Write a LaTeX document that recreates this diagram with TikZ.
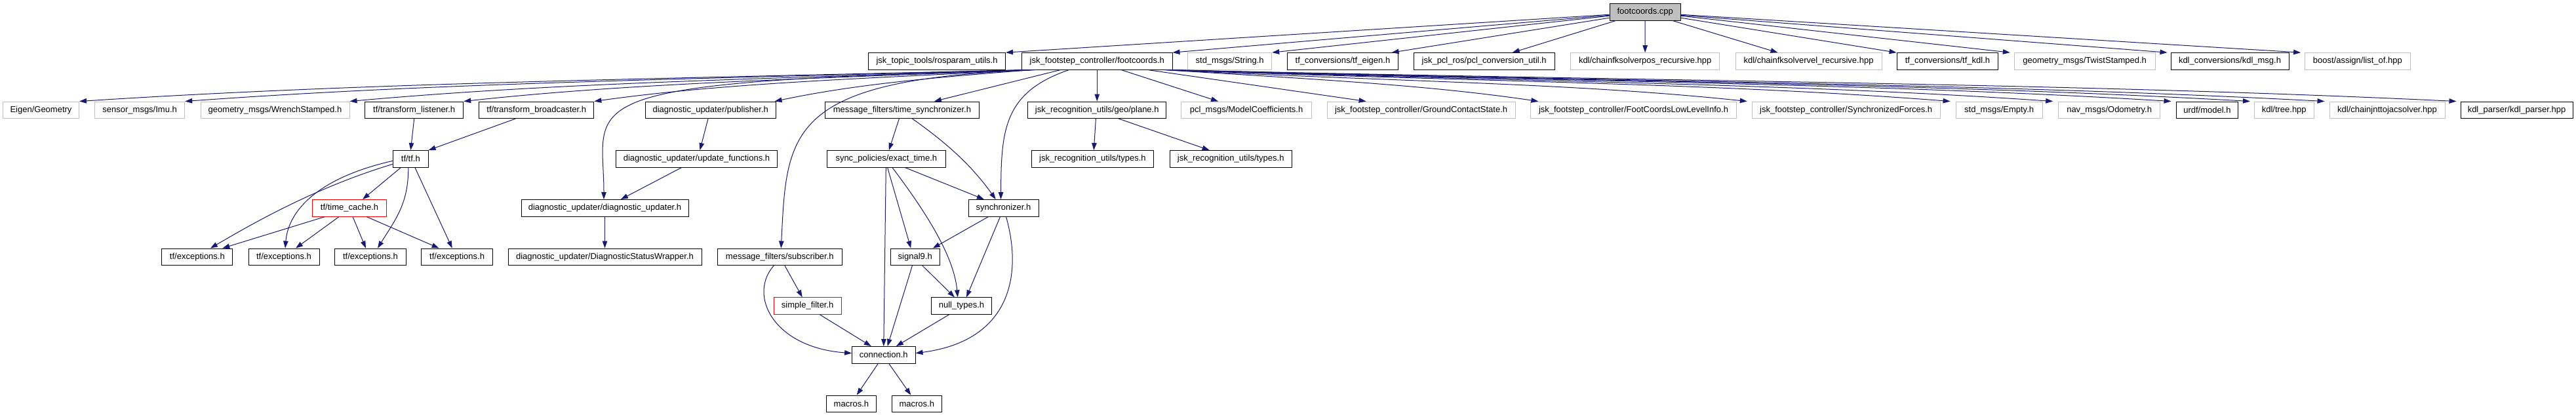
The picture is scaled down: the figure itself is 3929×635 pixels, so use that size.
\documentclass[tikz,border=0pt]{standalone}
\usepackage{fontspec}
\setmainfont{Liberation Sans}
\usetikzlibrary{arrows.meta}
\definecolor{edgeblue}{HTML}{191970}
\definecolor{extgray}{HTML}{BFBFBF}
\begin{document}
\begin{tikzpicture}[x=1pt,y=-1pt,
  box/.style={draw=black, line width=1pt, fill=white, rectangle, inner sep=0pt,
    minimum height=25.5pt, font=\fontsize{13}{15}\selectfont, text=black},
  doc/.style={box},
  ext/.style={box, draw=extgray},
  trunc/.style={box, draw=red},
  root/.style={box, fill=extgray},
  edge/.style={draw=edgeblue, line width=1pt, -{Triangle[length=11pt,width=7.5pt]}}]
\fill[white] (0,0) rectangle (3929,635);
\path[use as bounding box] (0,0) rectangle (3929,635);

% row 0
\node[root, minimum width=108.4pt] (cpp) at (2509.2,18.25) {footcoords.cpp};
% row 1
\node[doc, minimum width=208.9pt] (rosparam) at (1429.05,93.4) {jsk\_topic\_tools/rosparam\_utils.h};
\node[doc, minimum width=229.5pt] (fch) at (1673.25,93.4) {jsk\_footstep\_controller/footcoords.h};
\node[ext, minimum width=128.1pt] (string) at (1875.65,93.4) {std\_msgs/String.h};
\node[doc, minimum width=168.3pt] (tfeigen) at (2047.95,93.4) {tf\_conversions/tf\_eigen.h};
\node[doc, minimum width=214.7pt] (pclconv) at (2263.65,93.4) {jsk\_pcl\_ros/pcl\_conversion\_util.h};
\node[ext, minimum width=227.3pt] (fkpos) at (2509.15,93.4) {kdl/chainfksolverpos\_recursive.hpp};
\node[ext, minimum width=223pt] (fkvel) at (2758.5,93.4) {kdl/chainfksolvervel\_recursive.hpp};
\node[doc, minimum width=154.8pt] (tfkdl) at (2970.4,93.4) {tf\_conversions/tf\_kdl.h};
\node[ext, minimum width=214.7pt] (twist) at (3179.65,93.4) {geometry\_msgs/TwistStamped.h};
\node[doc, minimum width=180pt] (kdlmsg) at (3401,93.4) {kdl\_conversions/kdl\_msg.h};
\node[ext, minimum width=160.4pt] (listof) at (3595.8,93.4) {boost/assign/list\_of.hpp};
% row 2
\node[ext, minimum width=116pt] (eigen) at (62.5,167.8) {Eigen/Geometry};
\node[ext, minimum width=137.1pt] (imu) at (213.15,167.8) {sensor\_msgs/Imu.h};
\node[ext, minimum width=227pt] (wrench) at (419.5,167.8) {geometry\_msgs/WrenchStamped.h};
\node[doc, minimum width=150pt] (listener) at (631.7,167.8) {tf/transform\_listener.h};
\node[doc, minimum width=175pt] (broadcaster) at (818.3,167.8) {tf/transform\_broadcaster.h};
\node[doc, minimum width=198.6pt] (publisher) at (1083.7,167.8) {diagnostic\_updater/publisher.h};
\node[doc, minimum width=234.8pt] (timesync) at (1375.9,167.8) {message\_filters/time\_synchronizer.h};
\node[doc, minimum width=210.7pt] (plane) at (1673.25,167.8) {jsk\_recognition\_utils/geo/plane.h};
\node[ext, minimum width=198.6pt] (modelcoef) at (1901.1,167.8) {pcl\_msgs/ModelCoefficients.h};
\node[ext, minimum width=287.2pt] (ground) at (2167.6,167.8) {jsk\_footstep\_controller/GroundContactState.h};
\node[ext, minimum width=313.4pt] (lowlevel) at (2491.5,167.8) {jsk\_footstep\_controller/FootCoordsLowLevelInfo.h};
\node[ext, minimum width=286.7pt] (syncforces) at (2815.65,167.8) {jsk\_footstep\_controller/SynchronizedForces.h};
\node[ext, minimum width=132.2pt] (empty) at (3049.1,167.8) {std\_msgs/Empty.h};
\node[ext, minimum width=154.9pt] (odom) at (3217.15,167.8) {nav\_msgs/Odometry.h};
\node[doc, minimum width=94.8pt] (urdf) at (3366.4,167.8) {urdf/model.h};
\node[ext, minimum width=90.6pt] (tree) at (3483.7,167.8) {kdl/tree.hpp};
\node[ext, minimum width=176pt] (jntjac) at (3641,167.8) {kdl/chainjnttojacsolver.hpp};
\node[doc, minimum width=171pt] (kdlparser) at (3838.5,167.8) {kdl\_parser/kdl\_parser.hpp};
% row 3
\node[doc, minimum width=53.5pt] (tfh) at (626.35,242.3) {tf/tf.h};
\node[doc, minimum width=245.6pt] (updfun) at (1062.5,242.3) {diagnostic\_updater/update\_functions.h};
\node[doc, minimum width=180.4pt] (exact) at (1351.8,242.3) {sync\_policies/exact\_time.h};
\node[doc, minimum width=186.8pt] (types1) at (1666.4,242.3) {jsk\_recognition\_utils/types.h};
\node[doc, minimum width=186.5pt] (types2) at (1877.25,242.3) {jsk\_recognition\_utils/types.h};
% row 4
\node[trunc, minimum width=112.5pt] (timecache) at (533.05,317.3) {tf/time\_cache.h};
\node[doc, minimum width=255pt] (diagupd) at (922.5,317.3) {diagnostic\_updater/diagnostic\_updater.h};
\node[doc, minimum width=107pt] (synchronizer) at (1530.5,317.3) {synchronizer.h};
% row 5
\node[doc, minimum width=108pt] (exc1) at (300.9,391.8) {tf/exceptions.h};
\node[doc, minimum width=108pt] (exc2) at (433,391.8) {tf/exceptions.h};
\node[doc, minimum width=108.5pt] (exc3) at (564.95,391.8) {tf/exceptions.h};
\node[doc, minimum width=108.4pt] (exc4) at (697.1,391.8) {tf/exceptions.h};
\node[doc, minimum width=295pt] (dsw) at (922.5,391.8) {diagnostic\_updater/DiagnosticStatusWrapper.h};
\node[doc, minimum width=189.4pt] (subscriber) at (1189.3,391.8) {message\_filters/subscriber.h};
\node[doc, minimum width=74.5pt] (signal9) at (1395.75,391.8) {signal9.h};
% row 6
\node[trunc, minimum width=102.6pt] (simplefilter) at (1231.7,466.6) {simple\_filter.h};
\node[doc, minimum width=92pt] (nulltypes) at (1466.5,466.6) {null\_types.h};
% row 7
\node[doc, minimum width=96.4pt] (connection) at (1347.8,541.3) {connection.h};
% row 8
\node[doc, minimum width=76.3pt] (macros1) at (1298.45,615.8) {macros.h};
\node[doc, minimum width=76.6pt] (macros2) at (1398.3,615.8) {macros.h};

% edges from footcoords.cpp
\draw[edge] ([yshift=-4pt]cpp.west) -- (rosparam.north east);
\draw[edge] ([yshift=-5pt]cpp.west) -- (fch.north east);
\draw[edge] ([yshift=-6pt]cpp.west) -- (string.north east);
\draw[edge] ([yshift=-9pt]cpp.west) -- ([xshift=-10pt]tfeigen.north east);
\draw[edge] ([xshift=10pt]cpp.south west) -- ([xshift=43pt]pclconv.north);
\draw[edge] (cpp.south) -- (fkpos.north);
\draw[edge] ([xshift=-13pt]cpp.south east) -- ([xshift=-47pt]fkvel.north);
\draw[edge] ([yshift=-9pt]cpp.east) -- (tfkdl.north west);
\draw[edge] ([yshift=-6pt]cpp.east) -- ([xshift=-6pt]twist.north west);
\draw[edge] ([yshift=-5pt]cpp.east) -- ([xshift=-5pt]kdlmsg.north west);
\draw[edge] ([yshift=-4pt]cpp.east) -- ([xshift=-6pt]listof.north west);

% edges from footcoords.h, left
\draw[edge] ([xshift=3pt]fch.south west) .. controls +(-576,14) and +(432,-28) .. (eigen.north east);
\draw[edge] ([xshift=5pt]fch.south west) .. controls +(-513,14) and +(385,-28) .. (imu.north east);
\draw[edge] ([xshift=7pt]fch.south west) .. controls +(-413,14) and +(310,-28) .. (wrench.north east);
\draw[edge] ([xshift=9pt]fch.south west) .. controls +(-344,14) and +(258,-28) .. (listener.north east);
\draw[edge] ([xshift=12pt]fch.south west) .. controls +(-266,14) and +(200,-28) .. (broadcaster.north east);
\draw[edge] ([xshift=15pt]fch.south west) .. controls +(-157,12) and +(118,-25) .. ([xshift=-2pt]publisher.north east);
\draw[edge] ([xshift=18pt]fch.south west) .. controls +(-726.5,19) and +(0,-153.6) .. ([xshift=-1.5pt]diagupd.north);
\draw[edge] ([xshift=22pt]fch.south west) .. controls +(-380.5,14) and +(8.7,-178.6) .. ([xshift=2pt]subscriber.north);
\draw[edge] ([xshift=-56pt]fch.south) -- ([xshift=49pt]timesync.north);
\draw[edge] ([xshift=-43pt]fch.south) .. controls +(-100,34) and +(0.5,-104.5) .. ([xshift=-4pt]synchronizer.north);
\draw[edge] (fch.south) -- (plane.north);
\draw[edge] ([xshift=37pt]fch.south) -- ([xshift=-43pt]modelcoef.north);
\draw[edge] ([xshift=78pt]fch.south) -- ([xshift=-84pt]ground.north);
% edges from footcoords.h, right
\draw[edge] ([xshift=-12pt]fch.south east) .. controls +(225,14) and +(-169,-25) .. ([xshift=12pt]lowlevel.north west);
\draw[edge] ([xshift=-10pt]fch.south east) .. controls +(354,18) and +(-265,-28) .. ([xshift=-7pt]syncforces.north west);
\draw[edge] ([xshift=-8pt]fch.south east) .. controls +(478,18) and +(-358,-28) .. ([xshift=-8pt]empty.north west);
\draw[edge] ([xshift=-6pt]fch.south east) .. controls +(541,18) and +(-406,-28) .. ([xshift=-8pt]odom.north west);
\draw[edge] ([xshift=-4pt]fch.south east) .. controls +(612,18) and +(-459,-28) .. ([xshift=-7pt]urdf.north west);
\draw[edge] ([xshift=-2pt]fch.south east) .. controls +(660,18) and +(-495,-28) .. ([xshift=-6pt]tree.north west);
\draw[edge] ([xshift=-1pt]fch.south east) .. controls +(706,18) and +(-530,-28) .. ([xshift=-7pt]jntjac.north west);
\draw[edge] (fch.south east) .. controls +(786,18) and +(-590,-28) .. ([xshift=-6pt]kdlparser.north west);

% tf subtree
\draw[edge] (listener.south) -- (tfh.north);
\draw[edge] ([xshift=-32pt]broadcaster.south) -- (tfh.north east);
\draw[edge] ([xshift=-15pt]tfh.south) -- ([xshift=20pt]timecache.north);
\draw[edge] ([yshift=-8pt]tfh.west) .. controls +(-120,36) and +(60,-35) .. ([xshift=20pt]exc1.north);
\draw[edge] ([yshift=-3pt]tfh.west) .. controls +(-110,25) and +(5,-60) .. ([xshift=2pt]exc2.north);
\draw[edge] ([xshift=-3.5pt]tfh.south) .. controls +(0,55) and +(28,-45) .. ([xshift=11pt]exc3.north);
\draw[edge] ([xshift=6.6pt]tfh.south) -- ([xshift=-7.4pt]exc4.north);
\draw[edge] ([xshift=-37.5pt]timecache.south) -- ([xshift=38.4pt]exc1.north);
\draw[edge] ([xshift=-16pt]timecache.south) -- ([xshift=18pt]exc2.north);
\draw[edge] ([xshift=5pt]timecache.south) -- ([xshift=-7pt]exc3.north);
\draw[edge] ([xshift=26pt]timecache.south) -- ([xshift=-27.5pt]exc4.north);

% diagnostic updater
\draw[edge] ([xshift=-3.7pt]publisher.south) -- ([xshift=5pt]updfun.north);
\draw[edge] ([xshift=-23pt]updfun.south) -- ([xshift=24.4pt]diagupd.north);
\draw[edge] (diagupd.south) -- (dsw.north);

% message filters
\draw[edge] ([xshift=7.6pt]subscriber.south) -- ([xshift=-8pt]simplefilter.north);
\draw[edge] ([xshift=-9pt]subscriber.south) .. controls +(-40,45) and +(-119.6,-8.7) .. ([yshift=2.6pt]connection.west);
\draw[edge] ([xshift=18.7pt]simplefilter.south) -- ([xshift=-19pt]connection.north);
\draw[edge] ([xshift=-4.5pt]timesync.south) -- ([xshift=4pt]exact.north);
\draw[edge] ([xshift=15.6pt]timesync.south) .. controls +(48,34) and +(-38.75,-54.5) .. ([xshift=-11.75pt]synchronizer.north);
\draw[edge] ([xshift=28.6pt]exact.south) -- ([xshift=-29.6pt]synchronizer.north);
\draw[edge] ([xshift=1.8pt]exact.south) -- ([xshift=-6.5pt]signal9.north);
\draw[edge] ([xshift=9.2pt]exact.south) .. controls +(49,65) and +(-5.7,-63.85) .. ([xshift=-5.8pt]nulltypes.north);
\draw[edge] ([xshift=-0.5pt]exact.south) -- (connection.north);
\draw[edge] ([xshift=-23pt]synchronizer.south) -- ([xshift=27pt]signal9.north);
\draw[edge] ([xshift=-5pt]synchronizer.south) -- ([xshift=7.5pt]nulltypes.north);
\draw[edge] ([xshift=4pt]synchronizer.south) .. controls +(25.6,90) and +(144,-18.7) .. ([yshift=2.6pt]connection.east);
\draw[edge] ([xshift=11pt]signal9.south) -- ([xshift=-10.5pt]nulltypes.north);
\draw[edge] ([xshift=-4.3pt]signal9.south) -- ([xshift=5.8pt]connection.north);
\draw[edge] ([xshift=-19pt]nulltypes.south) -- ([xshift=19pt]connection.north);
\draw[edge] ([xshift=-8.5pt]connection.south) -- ([xshift=8.25pt]macros1.north);
\draw[edge] ([xshift=8pt]connection.south) -- ([xshift=-9pt]macros2.north);

% recognition utils
\draw[edge] ([xshift=-1.85pt]plane.south) -- ([xshift=1.9pt]types1.north);
\draw[edge] ([xshift=33pt]plane.south) -- ([xshift=-32.6pt]types2.north);
\end{tikzpicture}
\end{document}
